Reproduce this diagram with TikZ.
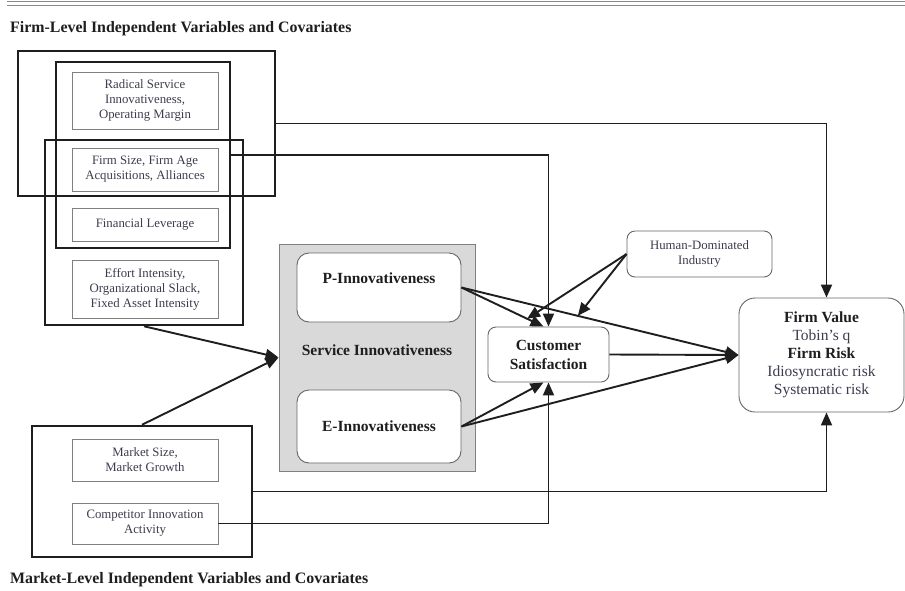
\documentclass[tikz,border=0pt]{standalone}
\usepackage{fontspec}
\setmainfont{Liberation Serif}
\usetikzlibrary{arrows.meta,calc}
\definecolor{inkgray}{HTML}{3C3C4E}
\definecolor{lineblack}{HTML}{1E1E1E}
\definecolor{panelgray}{HTML}{D9D9D9}
\definecolor{rulegray}{HTML}{8A8A8A}

\begin{document}
\begin{tikzpicture}[x=1pt,y=-1pt,
        grpbox/.style={draw=lineblack, line width=2.5pt, inner sep=0pt},
        varbox/.style={draw=gray, line width=0.9pt, minimum width=146pt, inner sep=0pt, align=center, text=inkgray, font=\fontsize{12.8}{15}\selectfont},
        roundbox/.style={draw=gray!80!black, line width=0.9pt, fill=white, inner sep=0pt, align=center},
        bigbold/.style={font=\fontsize{15.5}{19}\selectfont\bfseries, text=lineblack},
        link/.style={draw=lineblack, line width=1.9pt},
        arr/.style={link, -{Triangle[length=13pt,width=11pt]}}
    ]
                    \useasboundingbox (0,0) rectangle (905,590);
                    \draw[rulegray, line width=1.6pt] (7,1.5) -- (905,1.5);
                    \draw[rulegray, line width=1pt] (7,5) -- (905,5);
                    \node[bigbold, font=\fontsize{15.9}{19}\selectfont\bfseries, anchor=west, inner sep=0pt] (firmtitle) at (10,29) {Firm-Level Independent Variables and Covariates};
                    \node[bigbold, font=\fontsize{15.9}{19}\selectfont\bfseries, anchor=west, inner sep=0pt] (markettitle) at (10,580) {Market-Level Independent Variables and Covariates};
                    \node[varbox, minimum height=57pt] (radical) at (145,100.5) {Radical Service\\Innovativeness,\\Operating Margin};
                    \node[varbox, minimum height=43pt] (firmsize) at (145,169.5) {Firm Size, Firm Age\\Acquisitions, Alliances};
                    \node[varbox, minimum height=33pt] (leverage) at (145,224.5) {Financial Leverage};
                    \node[varbox, minimum height=58pt] (effort) at (145,289) {Effort Intensity,\\Organizational Slack,\\Fixed Asset Intensity};
                    \node[varbox, minimum height=42pt] (marketsize) at (145,460) {Market Size,\\Market Growth};
                    \node[varbox, minimum height=41pt] (competitor) at (145,523.5) {Competitor Innovation\\Activity};
                    \node[grpbox, minimum width=257pt, minimum height=145pt] (valuegrp) at (146.5,123.5) {};
                    \node[grpbox, minimum width=174pt, minimum height=186pt] (satgrp) at (143,155) {};
                    \node[grpbox, minimum width=198pt, minimum height=185pt] (innovgrp) at (144,232.5) {};
                    \node[grpbox, minimum width=220pt, minimum height=131pt] (marketgrp) at (142,491.5) {};
                    \node[draw=gray, line width=0.9pt, fill=panelgray, minimum width=196pt, minimum height=227pt, inner sep=0pt] (service) at (377,357.5) {};
                    \node[bigbold] (servicelabel) at (377,350) {Service Innovativeness};
                    \node[roundbox, bigbold, rounded corners=12pt, minimum width=164pt, minimum height=69pt, text depth=19pt] (pinnov) at (379,287.5) {P-Innovativeness};
                    \node[roundbox, bigbold, rounded corners=12pt, minimum width=164pt, minimum height=73pt] (einnov) at (379,426.5) {E-Innovativeness};
                    \node[roundbox, bigbold, rounded corners=8pt, minimum width=121pt, minimum height=55pt] (custsat) at (548.5,354.5) {Customer\\Satisfaction};
                    \node[roundbox, rounded corners=8pt, minimum width=145pt, minimum height=46pt, text=inkgray, font=\fontsize{12.8}{15}\selectfont] (human) at (699.5,254) {Human-Dominated\\Industry};
                    \node[roundbox, rounded corners=16pt, minimum width=165pt, minimum height=114pt, text=inkgray, font=\fontsize{15.5}{18}\selectfont] (firmvalue) at (821.5,355) {\textbf{\color{lineblack}Firm Value}\\Tobin's q\\\textbf{\color{lineblack}Firm Risk}\\Idiosyncratic risk\\Systematic risk};
                    \coordinate (pcsend) at ($(custsat.north)+(-5,0)$);
                    \coordinate (ecsend) at ($(custsat.south)+(-5,0)$);
                    \coordinate (pcsmid) at ($(pinnov.east)!0.8!(pcsend)$);
                    \coordinate (pfvmid) at ($(pinnov.east)!0.42!(firmvalue.west)$);
                    \draw[arr] (valuegrp.east) -| ([xshift=5pt]firmvalue.north);
                    \draw[arr] (satgrp.east) -| (custsat.north);
                    \draw[arr] (innovgrp.south) -- (service.west);
                    \draw[arr] (marketgrp.north) -- (service.west);
                    \draw[arr] (marketgrp.east) -| ([xshift=5pt]firmvalue.south);
                    \draw[arr] (competitor.east) -| (custsat.south);
                    \draw[arr] (pinnov.east) -- (pcsend);
                    \draw[arr] (pinnov.east) -- (firmvalue.west);
                    \draw[arr] (einnov.east) -- (ecsend);
                    \draw[arr] (einnov.east) -- (firmvalue.west);
                    \draw[arr] (custsat.east) -- (firmvalue.west);
                    \draw[arr] (human.west) -- (pcsmid);
                    \draw[arr] (human.west) -- (pfvmid);
                \end{tikzpicture}
\end{document}
